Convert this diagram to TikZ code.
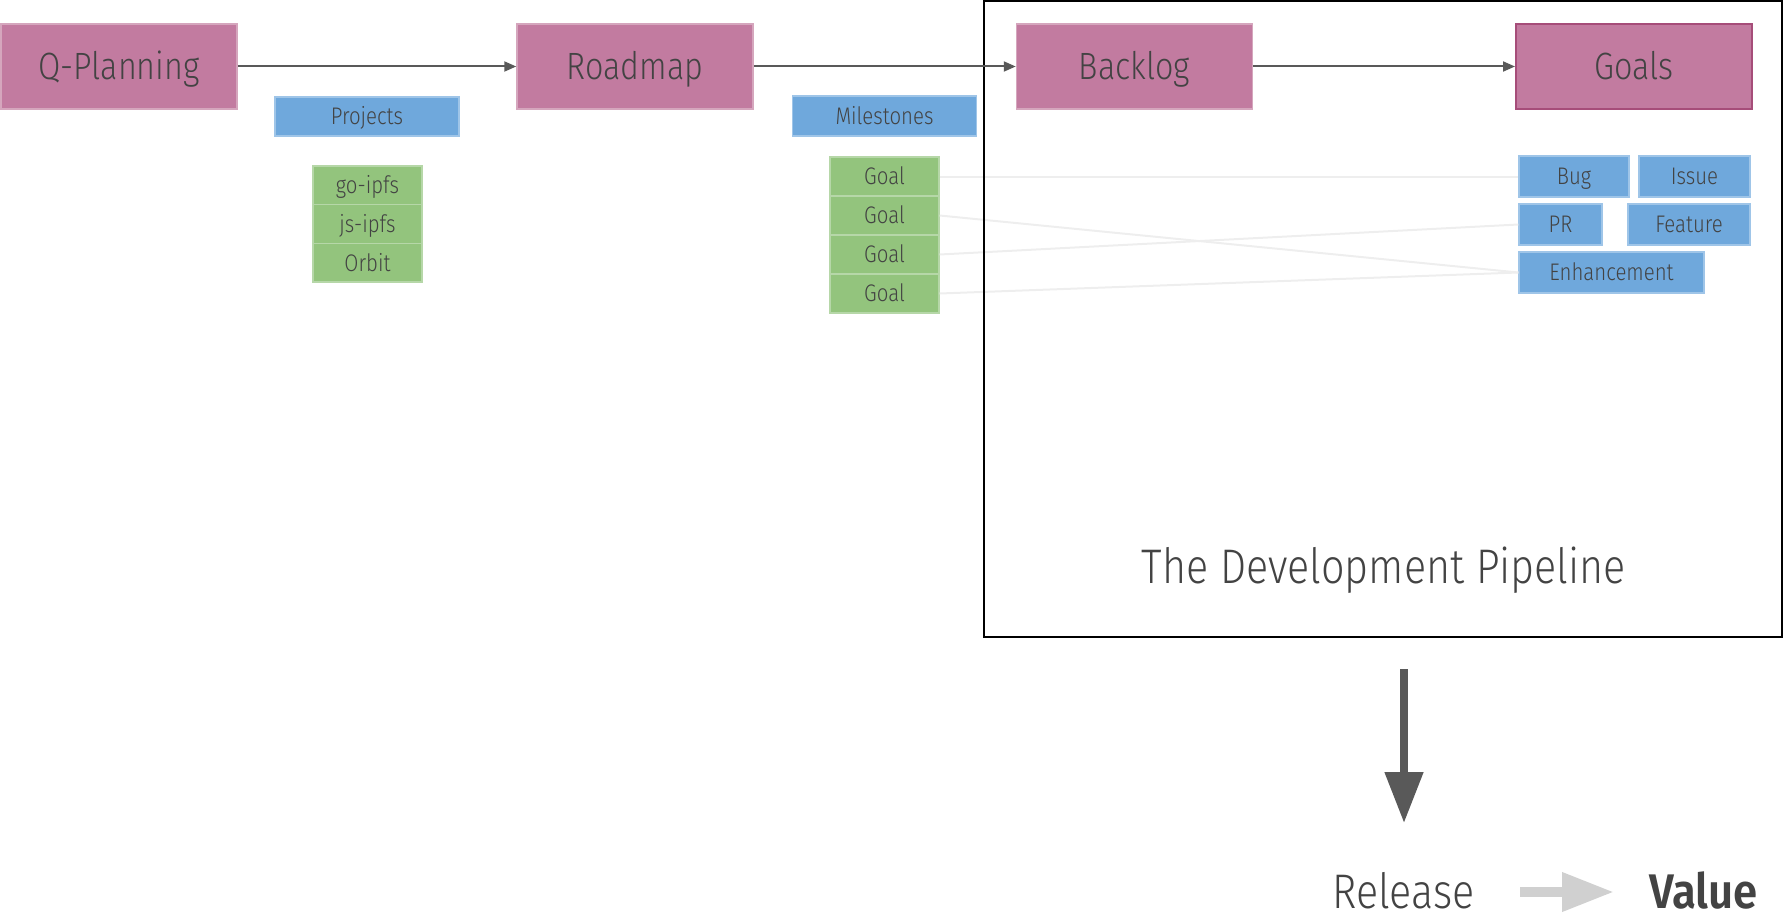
\documentclass[tikz,border=0pt]{standalone}
\usepackage{fontspec}
\setmainfont{Fira Sans Light}[FakeStretch=0.85, BoldFont=Fira Sans SemiBold, BoldFeatures={FakeStretch=0.9}]
\usetikzlibrary{arrows.meta}
\definecolor{txt}{HTML}{434343}
\definecolor{pinkf}{HTML}{C27BA0}
\definecolor{pinkd}{HTML}{D5A6BD}
\definecolor{pinkdk}{HTML}{A64D79}
\definecolor{bluef}{HTML}{6FA8DC}
\definecolor{blued}{HTML}{9FC5E8}
\definecolor{greenf}{HTML}{93C47D}
\definecolor{greend}{HTML}{B6D7A8}
\definecolor{arr}{HTML}{595959}
\definecolor{thin}{HTML}{EEEEEE}
\definecolor{lgray}{HTML}{D0D0D0}
\tikzset{
  bigbox/.style={draw=pinkd, fill=pinkf, line width=0.75pt, inner sep=0pt, text=txt,
    font=\fontsize{19}{22}\selectfont, text height=13.1pt, text depth=0pt},
  smallbase/.style={inner sep=0pt, text=txt, line width=0.6pt, font=\fontsize{12}{14}\selectfont,
    text height=8.3pt, text depth=0pt},
  bluebox/.style={smallbase, draw=blued, fill=bluef},
  greenbox/.style={smallbase, draw=greend, fill=greenf},
  flow/.style={draw=arr, line width=1pt, -{Triangle[length=6pt,width=5pt]}},
  link/.style={draw=thin, line width=1pt},
  bigtxt/.style={text=txt, inner sep=0pt, font=\fontsize{24.3}{28}\selectfont, text depth=0pt}
}
\begin{document}
\begin{tikzpicture}[x=0.5pt, y=-0.5pt]
\useasboundingbox (0,0) rectangle (1783,915);
% main boxes
\node[bigbox, minimum width=118pt, minimum height=42.5pt] (qp) at (119,66.5) {Q-Planning};
\node[bigbox, minimum width=118pt, minimum height=42.5pt] (road) at (635,66.5) {Roadmap};
\node[bigbox, minimum width=118pt, minimum height=42.5pt] (back) at (1134.5,66.5) {Backlog};
\node[bigbox, draw=pinkdk, line width=1pt, minimum width=118pt, minimum height=42.5pt] (goals) at (1634,66.5) {Goals};
% projects
\node[bluebox, minimum width=92pt, minimum height=19.5pt] (projects) at (367,116.5) {Projects};
\node[greenbox, minimum width=54.5pt, minimum height=19.33pt] (go) at (367.5,185.3) {go-ipfs};
\node[greenbox, minimum width=54.5pt, minimum height=19.33pt] (js) at (367.5,224) {js-ipfs};
\node[greenbox, minimum width=54.5pt, minimum height=19.33pt] (orbit) at (367.5,262.7) {Orbit};
% milestones
\node[bluebox, minimum width=92pt, minimum height=20pt] (miles) at (884.5,116) {Milestones};
\node[greenbox, minimum width=54.5pt, minimum height=19.5pt] (g1) at (884.5,176.5) {Goal};
\node[greenbox, minimum width=54.5pt, minimum height=19.5pt] (g2) at (884.5,215.5) {Goal};
\node[greenbox, minimum width=54.5pt, minimum height=19.5pt] (g3) at (884.5,254.5) {Goal};
\node[greenbox, minimum width=54.5pt, minimum height=19.5pt] (g4) at (884.5,293.5) {Goal};
% goal types
\node[bluebox, minimum width=55pt, minimum height=20.5pt] (bug) at (1574,176.5) {Bug};
\node[bluebox, minimum width=55.5pt, minimum height=20.5pt] (issue) at (1694.5,176.5) {Issue};
\node[bluebox, minimum width=41.5pt, minimum height=20.5pt] (pr) at (1560.5,224.5) {PR};
\node[bluebox, minimum width=61pt, minimum height=20.5pt] (feature) at (1689,224.5) {Feature};
\node[bluebox, minimum width=92.5pt, minimum height=20.5pt] (enh) at (1611.5,272.5) {Enhancement};
% links
\draw[link] (g1.east) -- (bug.west);
\draw[link] (g2.east) -- (enh.west);
\draw[link] (g3.east) -- (pr.west);
\draw[link] (g4.east) -- (enh.west);
% pipeline frame
\node[draw=black, line width=1pt, inner sep=0pt, minimum width=399pt, minimum height=318pt] (frame) at (1382.5,319) {};
\node[bigtxt, anchor=base] (pipe) at (1384,583) {The Development Pipeline};
% flow arrows
\draw[flow] (qp.east) -- (road.west);
\draw[flow] (road.east) -- (back.west);
\draw[flow] (back.east) -- (goals.west);
% release
\coordinate (dtop) at (1404,669);
\coordinate (dtip) at (1404,823);
\draw[draw=arr, line width=4pt, -{Triangle[length=25.5pt,width=18.5pt]}] (dtop) -- (dtip);
\node[bigtxt, anchor=base] (release) at (1403.5,908) {Release};
\node[bigtxt, anchor=base, font=\fontsize{24.3}{28}\selectfont\bfseries] (value) at (1703.5,908) {Value};
\coordinate (gs) at (1520,892);
\coordinate (ge) at (1614,892);
\draw[draw=lgray, line width=5pt, -{Triangle[length=26pt,width=18.5pt]}] (gs) -- (ge);
\end{tikzpicture}
\end{document}
